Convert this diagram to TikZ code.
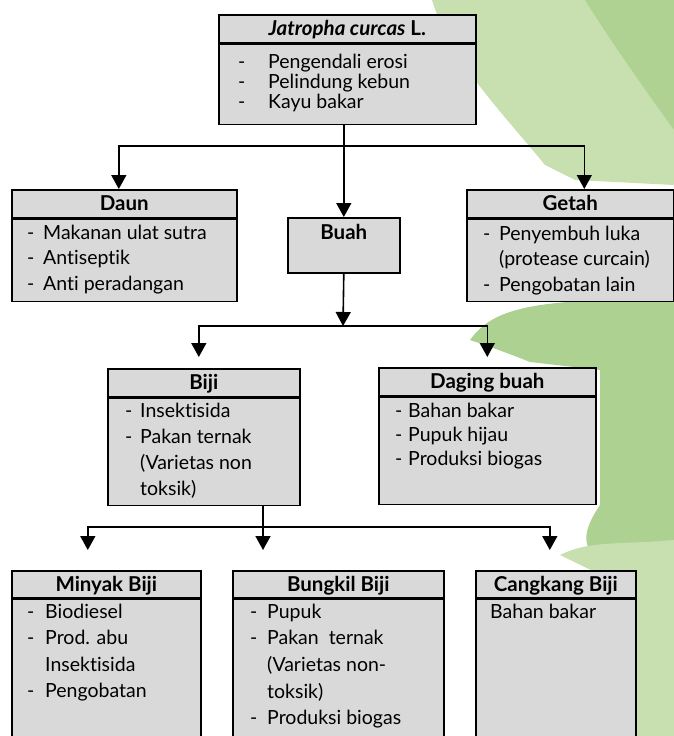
\documentclass[tikz,border=0pt]{standalone}
\usepackage{fontspec}
\setmainfont{Lato}[Ligatures={NoCommon}]
\usetikzlibrary{arrows.meta}

\definecolor{abu}{RGB}{217,217,217}
\definecolor{daunmuda}{RGB}{200,224,176}
\definecolor{dauntua}{RGB}{152,198,118}

\tikzset{
  judul/.style={draw, line width=1.6pt, fill=abu, inner sep=0pt, anchor=north west,
    minimum height=28pt, text height=14pt, text depth=0pt,
    font=\fontsize{20.5}{24}\selectfont\bfseries},
  badan/.style={draw, line width=1.6pt, fill=abu, inner sep=0pt, anchor=north west},
  isi/.style={inner sep=0pt, anchor=base west, font=\fontsize{19.5}{#1}\selectfont},
  isi/.default=25.5,
  garis/.style={line width=1.6pt},
  panah/.style={garis, -{Triangle[width=15pt,length=14pt]}},
}

\begin{document}
\begin{tikzpicture}[x=1pt, y=-1pt]
  \useasboundingbox (0,0) rectangle (674,736);
  \clip (0,0) rectangle (674,736);

  % Leaf in the background
  \fill[daunmuda] (432,0) .. controls (450,60) and (500,110) .. (545,165)
    -- (575,180) -- (674,185) -- (674,0) -- cycle;
  \fill[dauntua, opacity=.5] (585,0) -- (674,0) -- (674,130)
    .. controls (645,90) and (610,40) .. cycle;
  \fill[dauntua!80] (470,340) .. controls (495,305) and (540,300) .. (674,298)
    -- (674,570) -- (600,560) .. controls (575,545) and (590,520) .. (600,505)
    -- (600,370) -- (530,362) .. controls (505,352) and (485,345) .. cycle;
  \fill[daunmuda] (560,555) .. controls (590,540) and (620,545) .. (674,540)
    -- (674,736) -- (632,736) -- (632,590) -- cycle;

  % Top box
  \node[judul, minimum width=257pt] (jc) at (218,14)
    {\textit{Jatropha curcas} L.};
  \node[badan, minimum width=257pt, minimum height=80pt] (jc-isi) at (jc.south west) {};
  \node[isi=19] (jc-teks) at (238,68) {\begin{tabular}[t]{@{}p{30pt}@{}l@{}}
    - & Pengendali erosi\\
    - & Pelindung kebun\\
    - & Kayu bakar
  \end{tabular}};

  % Second row
  \node[judul, minimum width=225pt] (daun) at (11,189) {Daun};
  \node[badan, minimum width=225pt, minimum height=82pt] (daun-isi) at (daun.south west) {};
  \node[isi] (daun-teks) at (27,239) {\begin{tabular}[t]{@{}p{16pt}@{}l@{}}
    - & Makanan ulat sutra\\
    - & Antiseptik\\
    - & Anti peradangan
  \end{tabular}};

  \node[judul, minimum width=112pt, minimum height=55pt] (buah) at (287,217) {};
  \node[font=\fontsize{20.5}{24}\selectfont\bfseries, anchor=base] (buah-teks)
    at ([yshift=-22pt]buah.north) {Buah};

  \node[judul, minimum width=207pt] (getah) at (466,189) {Getah};
  \node[badan, minimum width=207pt, minimum height=82pt] (getah-isi) at (getah.south west) {};
  \node[isi] (getah-teks) at (483,240) {\begin{tabular}[t]{@{}p{16pt}@{}l@{}}
    - & Penyembuh luka\\
      & (protease curcain)\\
    - & Pengobatan lain
  \end{tabular}};

  % Third row
  \node[judul, minimum width=192pt] (biji) at (107,368) {Biji};
  \node[badan, minimum width=192pt, minimum height=107pt] (biji-isi) at (biji.south west) {};
  \node[isi=26] (biji-teks) at (125,417) {\begin{tabular}[t]{@{}p{15pt}@{}l@{}}
    - & Insektisida\\
    - & Pakan ternak\\
      & (Varietas non\\
      & toksik)
  \end{tabular}};

  \node[judul, minimum width=217pt] (daging) at (378,367) {Daging buah};
  \node[badan, minimum width=217pt, minimum height=107pt] (daging-isi) at (daging.south west) {};
  \node[isi=24] (daging-teks) at (395,417) {\begin{tabular}[t]{@{}p{13pt}@{}l@{}}
    - & Bahan bakar\\
    - & Pupuk hijau\\
    - & Produksi biogas
  \end{tabular}};

  % Bottom row
  \node[judul, minimum width=189pt, minimum height=27pt] (minyak) at (11,570) {Minyak Biji};
  \node[badan, minimum width=189pt, minimum height=160pt] (minyak-isi) at (minyak.south west) {};
  \node[isi=26.5] (minyak-teks) at (27,618) {\begin{tabular}[t]{@{}p{18pt}@{}l@{}}
    - & Biodiesel\\
    - & Prod. abu\\
      & Insektisida\\
    - & Pengobatan
  \end{tabular}};

  \node[judul, minimum width=211pt, minimum height=27pt] (bungkil) at (232,570) {Bungkil Biji};
  \node[badan, minimum width=211pt, minimum height=160pt] (bungkil-isi) at (bungkil.south west) {};
  \node[isi=26.7] (bungkil-teks) at (250,618) {\begin{tabular}[t]{@{}p{17pt}@{}l@{}}
    - & Pupuk\\
    - & Pakan\ \ ternak\\
      & (Varietas non-\\
      & toksik)\\
    - & Produksi biogas
  \end{tabular}};

  \node[judul, minimum width=160pt, minimum height=27pt] (cangkang) at (475,570) {Cangkang Biji};
  \node[badan, minimum width=160pt, minimum height=160pt] (cangkang-isi) at (cangkang.south west) {};
  \node[isi] (cangkang-teks) at (490,618) {Bahan bakar};

  % Connectors
  \coordinate (c1) at (343,146);
  \coordinate (c2) at (343,326);
  \coordinate (c3) at (263,527);

  \draw[panah] (jc-isi.south -| buah) -- (buah.north);
  \draw[panah] (c1) -| ([xshift=-5.5pt]daun.north);
  \draw[panah] (c1) -| ([xshift=14pt]getah.north);

  \draw[panah] (buah.south) -- (c2);
  \draw[panah, shorten >=11pt] (c2) -| ([xshift=-5pt]biji.north);
  \draw[panah, shorten >=10pt] (c2) -| (daging.north);

  \draw[panah, shorten >=20pt] (biji-isi.south -| c3) -- (bungkil.north -| c3);
  \draw[panah, shorten >=20pt] (c3) -| ([xshift=-18.5pt]minyak.north);
  \draw[panah, shorten >=20pt] (c3) -| ([xshift=-6pt]cangkang.north);
\end{tikzpicture}
\end{document}
